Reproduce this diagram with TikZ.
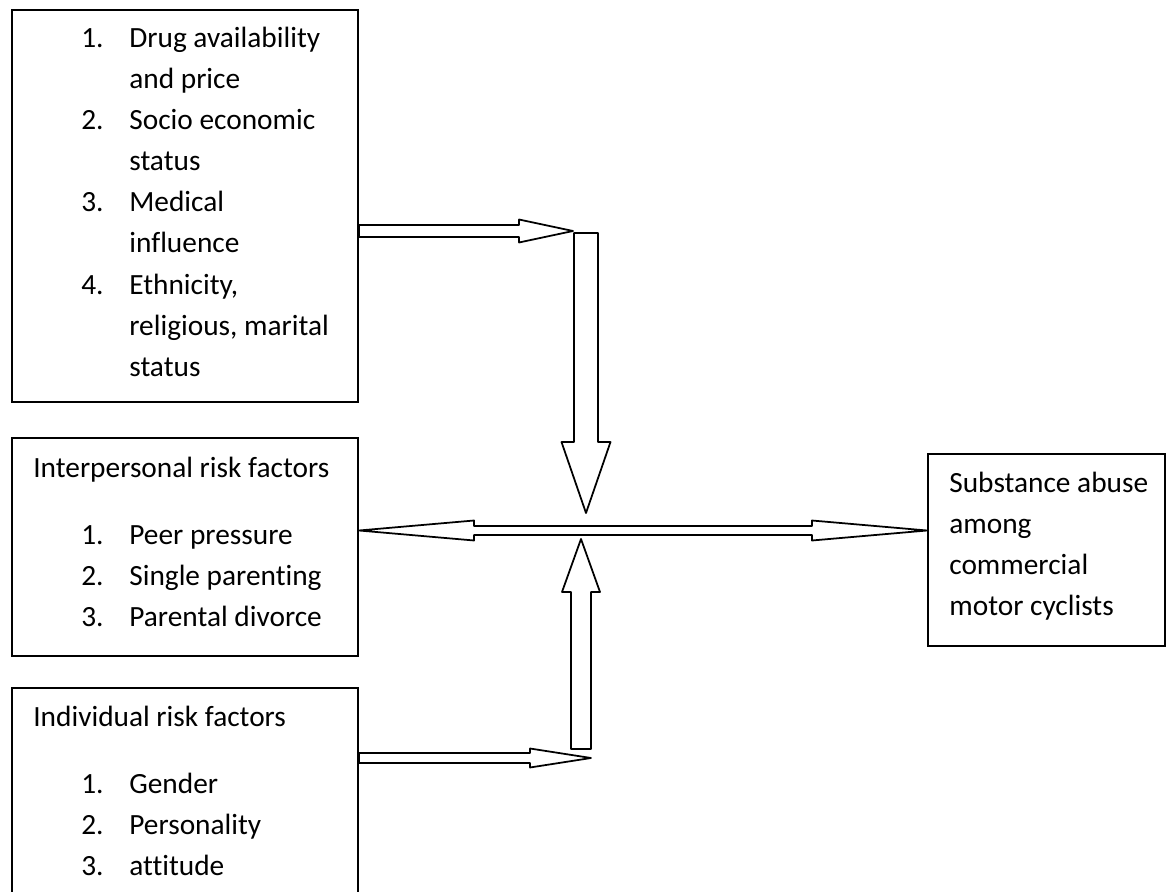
\documentclass[tikz,border=0pt]{standalone}
\usepackage{fontspec}
\setmainfont{Carlito}[Ligatures={NoCommon}]
\usetikzlibrary{positioning}
\usetikzlibrary{calc}
\usetikzlibrary{fit}
\newcommand\blockarrow[5]{
  \coordinate (ba-h) at ($(#2)!#5!(#1)$);
  \draw[blk] ($(#1)!#3!90:(#2)$) -- ($(ba-h)!#3!90:(#2)$) -- ($(ba-h)!#4!90:(#2)$) -- (#2)
    -- ($(ba-h)!#4!-90:(#2)$) -- ($(ba-h)!#3!-90:(#2)$) -- ($(#1)!#3!-90:(#2)$) -- cycle;
}
\newcommand\dblarrow[5]{
  \coordinate (da-a) at ($(#1)!#5!(#2)$);
  \coordinate (da-b) at ($(#2)!#5!(#1)$);
  \draw[blk] (#1) -- ($(da-a)!#4!90:(#2)$) -- ($(da-a)!#3!90:(#2)$) -- ($(da-b)!#3!90:(#2)$)
    -- ($(da-b)!#4!90:(#2)$) -- (#2) -- ($(da-b)!#4!-90:(#2)$) -- ($(da-b)!#3!-90:(#2)$)
    -- ($(da-a)!#3!-90:(#2)$) -- ($(da-a)!#4!-90:(#2)$) -- cycle;
}

\begin{document}
\begin{tikzpicture}[x=0.02cm, y=-0.02cm,
  box/.style={draw, line width=1.2pt, inner sep=0pt},
  blk/.style={draw, line width=1pt, line join=round, fill=white},
  lbl/.style={inner sep=0pt, anchor=base west, font=\fontsize{16.7}{23.3}\selectfont}]
				\useasboundingbox (0,0) rectangle (1167,892);
				\node[box, fit={(12,10) (358,402)}] (drug) {};
				\node[box, fit={(12,438) (358,656)}] (inter) {};
				\node[box, fit={(12,688) (358,930)}] (indiv) {};
				\node[box, fit={(928,454) (1165,646)}] (subst) {};
				\foreach \txt [count=\i] in {Drug availability, and price, Socio economic, status, Medical, influence, {Ethnicity,}, {religious, marital}, status}
					\node[lbl] (drug-\i) at (129, {48+41*(\i-1)}) {\txt};
				\foreach \n/\k in {1/0, 2/2, 3/4, 4/6}
					\node[lbl] (drugnum-\n) at (81, {48+41*\k}) {\n.};
				\node[lbl] (inter-head) at (33, 477) {Interpersonal risk factors};
				\foreach \txt [count=\i] in {Peer pressure, Single parenting, Parental divorce}{
					\node[lbl] (internum-\i) at (81, {544+41*(\i-1)}) {\i.};
					\node[lbl] (inter-\i) at (129, {544+41*(\i-1)}) {\txt};
				}
				\node[lbl] (indiv-head) at (33, 726) {Individual risk factors};
				\foreach \txt [count=\i] in {Gender, Personality, attitude}{
					\node[lbl] (indivnum-\i) at (81, {793+41*(\i-1)}) {\i.};
					\node[lbl] (indiv-\i) at (129, {793+41*(\i-1)}) {\txt};
				}
				\foreach \txt [count=\i] in {Substance abuse, among, commercial, motor cyclists}
					\node[lbl] (subst-\i) at (949, {492+41*(\i-1)}) {\txt};
				\coordinate (topjoin) at (573, 231);
				\coordinate (downtop) at (586, 233);
				\coordinate (downtip) at (586, 513);
				\coordinate (midline) at (640, 530.5);
				\coordinate (uptip) at (581, 539);
				\coordinate (upfoot) at (581, 749);
				\coordinate (lowjoin) at (591, 758);
				\blockarrow{drug.east |- topjoin}{topjoin}{0.12cm}{0.23cm}{1.08cm}
				\blockarrow{downtop}{downtip}{0.24cm}{0.49cm}{1.42cm}
				\dblarrow{inter.east |- midline}{subst.west |- midline}{0.09cm}{0.2cm}{2.3cm}
				\blockarrow{upfoot}{uptip}{0.2cm}{0.38cm}{1.06cm}
				\blockarrow{indiv.east |- lowjoin}{lowjoin}{0.1cm}{0.19cm}{1.22cm}
			\end{tikzpicture}
\end{document}
